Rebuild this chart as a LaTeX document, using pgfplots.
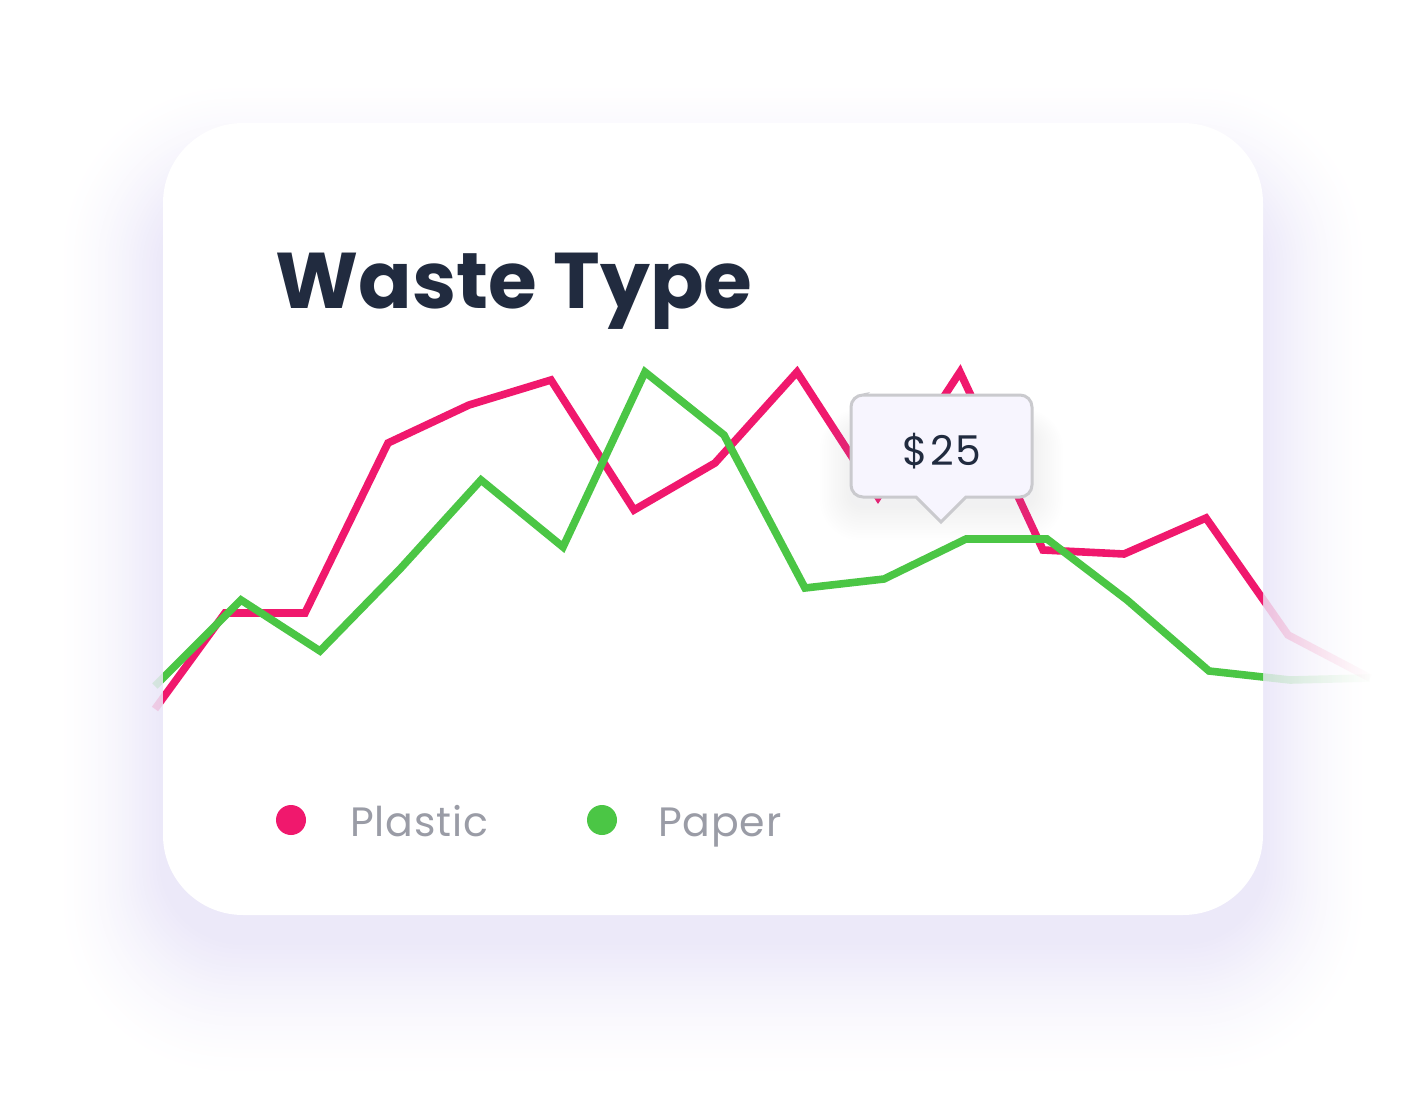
\documentclass[border=0pt]{standalone}
\usepackage{fontspec}
\setmainfont{Poppins}
\usepackage{pgfplots}
\usepackage{pgfplotstable}
\pgfplotsset{compat=1.18}
\usetikzlibrary{fadings}

\definecolor{plastic}{HTML}{F0186D}
\definecolor{paper}{HTML}{4BC645}
\definecolor{ink}{HTML}{212B3F}
\definecolor{muted}{HTML}{9A9CA6}
\definecolor{shadowc}{HTML}{ECE9F9}
\definecolor{glow}{HTML}{CFC6F2}
\definecolor{tipfill}{HTML}{F7F5FE}
\definecolor{tipline}{HTML}{CACACE}

\tikzfading[name=fadeR, left color=transparent!0, right color=transparent!100]

% points, in pixel units (y grows downward)
\pgfplotstableread{
x y
155 709
225 613
305 613
388 443
469 405
551 380
634 510
715 463
797 372
878 497
960 372
1043 550
1124 554
1206 518
1288 635
1370 678
}\plastictab

\pgfplotstableread{
x y
155 686
241 600
320 651
400 569
481 480
563 547
645 372
724 435
805 588
884 579
966 539
1047 539
1127 600
1209 671
1290 680
1370 678
}\papertab

\pgfplotsset{
  px/.style={
    scale only axis, y dir=reverse, hide axis,
  },
  full/.style={
    px, at={(0pt,0pt)}, anchor=north west,
    width=710.5pt, height=556pt,
    xmin=0, xmax=1421, ymin=0, ymax=1112, clip=false,
  },
  card/.style={
    px, at={(81.5pt,-61.5pt)}, anchor=north west,
    width=550pt, height=396pt,
    xmin=163, xmax=1263, ymin=123, ymax=915,
  },
}

\begin{document}
\begin{tikzpicture}
\useasboundingbox (0pt,0pt) rectangle (710.5pt,-556pt);
\fill[white] (0pt,0pt) rectangle (710.5pt,-556pt);

% soft shadow under the card, outermost ring first (1px = 0.5pt)
\foreach \i in {30,29,...,1}{
  \pgfmathsetmacro\pct{100*((31-\i)/30)^1.5}
  \fill[shadowc!\pct!white, rounded corners={(40+\i*1.5)*1pt}]
    ({(163-\i*3.4)*0.5pt},{-(190-\i*3.5)*0.5pt}) rectangle ({(1263+\i*3.4)*0.5pt},{-(940+\i*4.5)*0.5pt});
}

% faded ends of the lines, outside the card
\begin{axis}[full]
  \addplot[plastic, line width=3.8pt, opacity=0.15, restrict x to domain=150:230] table[x=x,y=y] {\plastictab};
  \addplot[paper, line width=3.8pt, opacity=0.15, restrict x to domain=150:245] table[x=x,y=y] {\papertab};
  \addplot[plastic, line width=3.8pt, opacity=0.3, path fading=fadeR, restrict x to domain=1200:1400] table[x=x,y=y] {\plastictab};
  \addplot[paper, line width=3.8pt, opacity=0.3, path fading=fadeR, restrict x to domain=1200:1400] table[x=x,y=y] {\papertab};
\end{axis}

% card
\begin{axis}[full]
  \fill[white, rounded corners=40pt] (163,123) rectangle (1263,915);
\end{axis}

% the two series, clipped to the card
\begin{axis}[card]
  \addplot[plastic, line width=3.8pt] table[x=x,y=y] {\plastictab};
  \addplot[paper, line width=3.8pt] table[x=x,y=y] {\papertab};
\end{axis}

% tooltip, title and legend
\begin{axis}[full]
  \pgfplotsinvokeforeach{1,...,14}{
    \fill[glow, opacity=0.008, rounded corners={(6+#1)*1pt}]
      ({851-#1*2.2},{430-#1*1.5}) rectangle ({1032+#1*2.2},{505+#1*2.5});
  }
  \draw[tipline, line width=1.5pt, fill=tipfill]
    (863,395) -- (1020,395) arc[start angle=90, end angle=0, radius=6pt]
    -- (1032,485) arc[start angle=0, end angle=-90, radius=6pt]
    -- (966,497) -- (941,522) -- (916,497)
    -- (863,497) arc[start angle=270, end angle=180, radius=6pt]
    -- (851,407) arc[start angle=180, end angle=90, radius=6pt] -- cycle;
  \node[ink, font=\fontsize{20.5}{24}\selectfont\addfontfeature{LetterSpace=4}, inner sep=0] at (942,451) {\$25};

  \node[ink, anchor=base west, inner sep=0, font=\fontsize{39.5}{46}\selectfont\bfseries] at (275,308) {Waste Type};

  \fill[plastic] (291,820) circle (7.5pt);
  \fill[paper] (602,820) circle (7.5pt);
  \node[muted, anchor=base west, inner sep=0, font=\fontsize{20.5}{24}\selectfont\addfontfeature{LetterSpace=2}] at (350,836) {Plastic};
  \node[muted, anchor=base west, inner sep=0, font=\fontsize{20.5}{24}\selectfont\addfontfeature{LetterSpace=2}] at (658,836) {Paper};
\end{axis}
\end{tikzpicture}
\end{document}
